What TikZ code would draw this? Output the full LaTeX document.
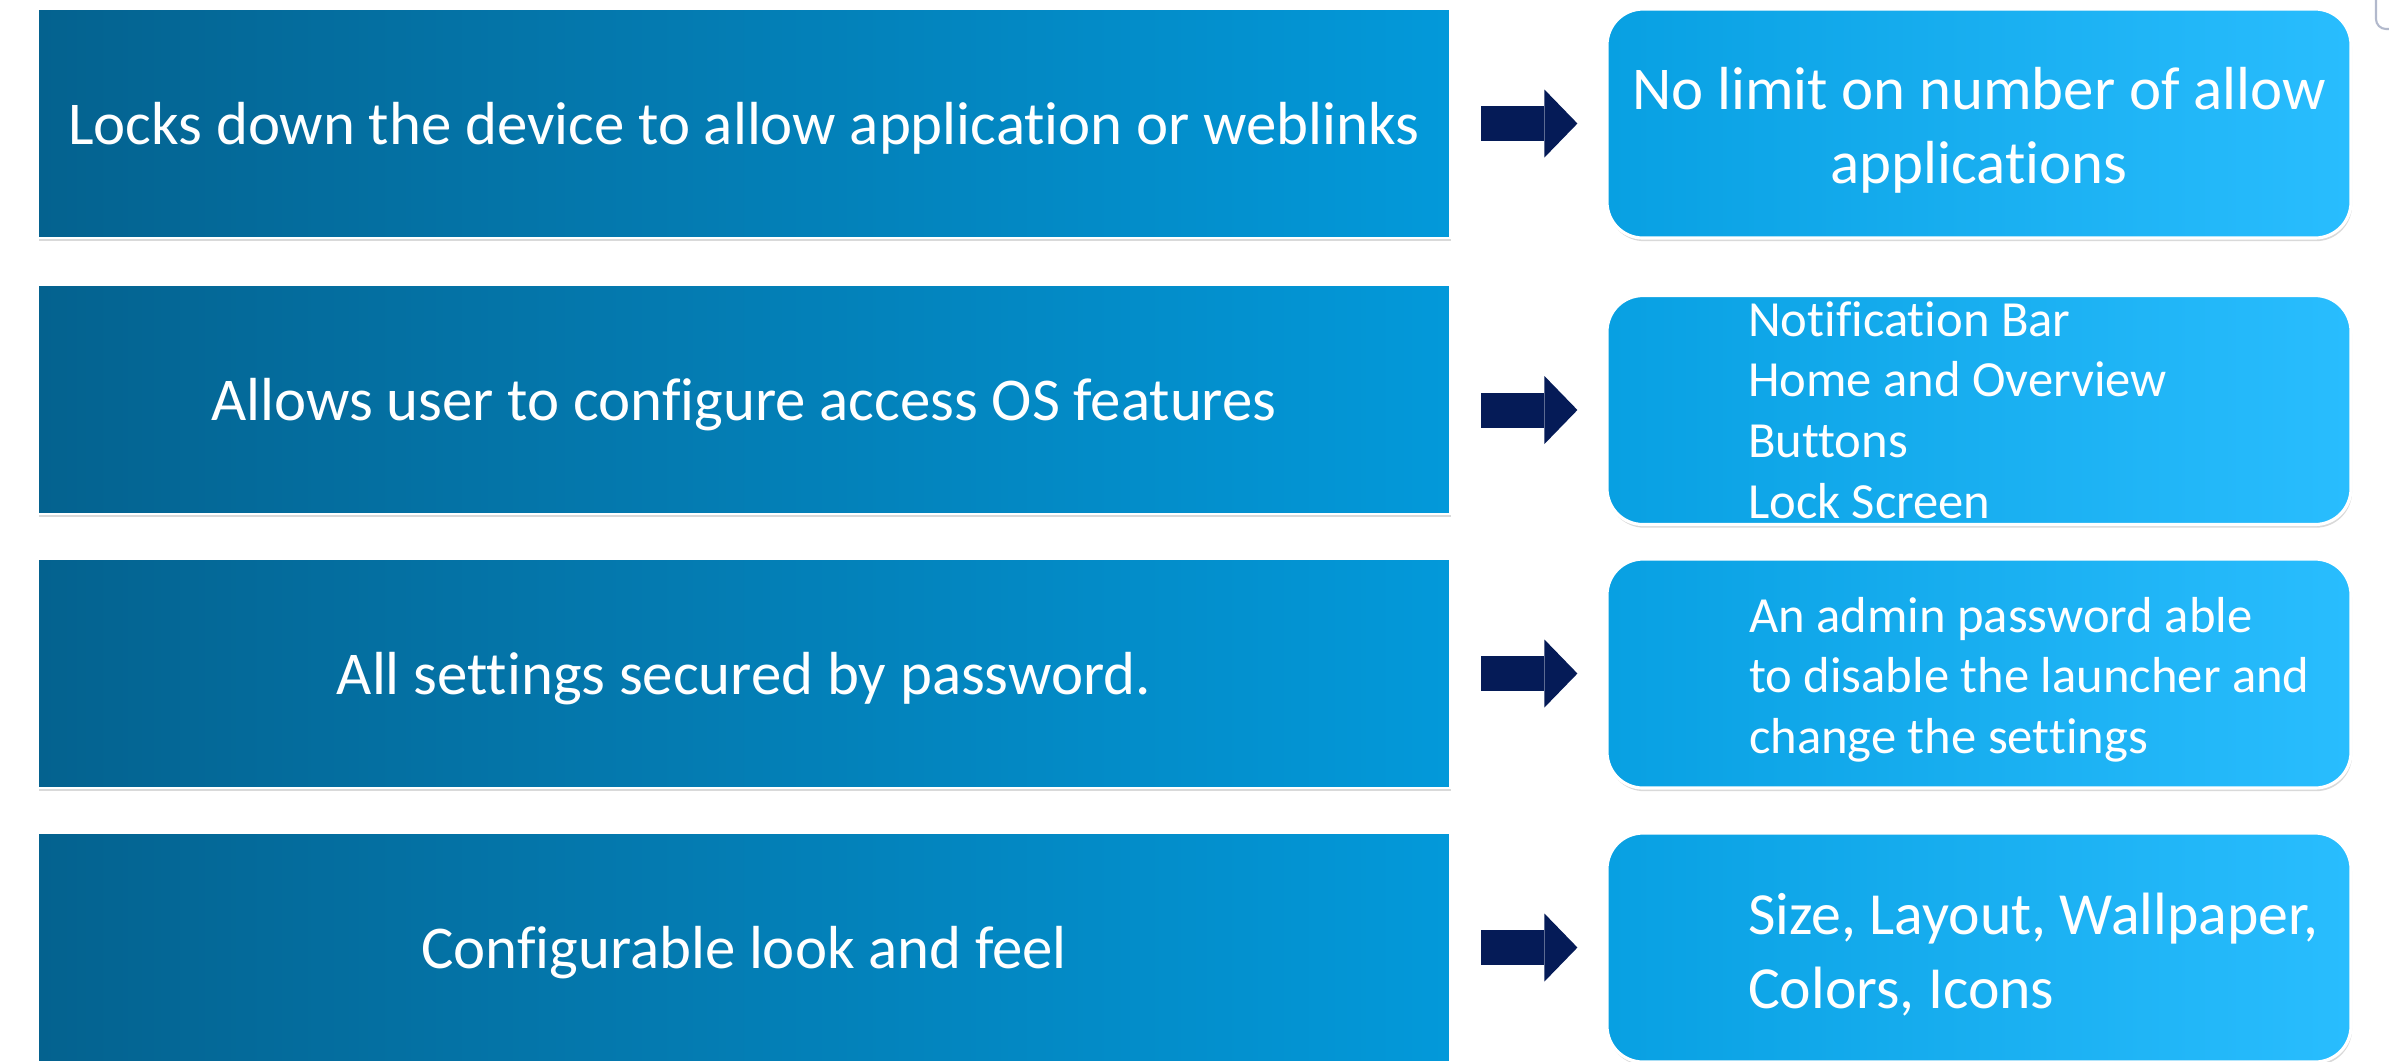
\documentclass[tikz,border=0pt]{standalone}
\usepackage{fontspec}
\setmainfont{Carlito}[Ligatures=NoCommon]
\usetikzlibrary{arrows.meta,shadows}

\definecolor{featdark}{HTML}{04628F}
\definecolor{featlight}{HTML}{0399DA}
\definecolor{infodark}{HTML}{08A0E2}
\definecolor{infolight}{HTML}{29BDFE}
\definecolor{arrownavy}{HTML}{051B57}
\definecolor{edgegray}{HTML}{B2B9CC}

\tikzset{
  featbox/.style={rectangle,minimum width=14.12cm,minimum height=2.29cm,inner sep=0pt,
    left color=featdark,right color=featlight,draw=white,line width=0.7pt,
    drop shadow={shadow xshift=0.3pt,shadow yshift=-0.9pt,opacity=0.3},
    text=white,text depth=0pt,font=\fontsize{17.3}{21.1}\selectfont},
  infobox/.style={rectangle,rounded corners=0.36cm,minimum width=7.44cm,minimum height=2.29cm,
    inner sep=0pt,left color=infodark,right color=infolight,draw=white,line width=0.9pt,
    drop shadow={shadow xshift=0.3pt,shadow yshift=-0.9pt,opacity=0.3}},
  infotext/.style={text=white,align=left,anchor=west,inner sep=0pt},
  bigarrow/.style={arrownavy,line width=0.35cm,
    -{Triangle[length=0.33cm,width=0.68cm,line width=0pt]},
    shorten <=0.30cm,shorten >=0.28cm}
}

\begin{document}
\begin{tikzpicture}
    \useasboundingbox (0,0) rectangle (23.89,-10.61);
    \clip (0,0) rectangle (23.89,-10.61);
    %% feature boxes
    \node[featbox] (f1) at (7.44,-1.235) {Locks down the device to allow application or weblinks};
    \node[featbox] (f2) at (7.44,-3.995) {Allows user to configure access OS features};
    \node[featbox] (f3) at (7.44,-6.735) {All settings secured by password.};
    \node[featbox] (f4) at (7.44,-9.475) {Configurable look and feel};
    %% detail boxes
    \node[infobox] (r1) at (19.79,-1.235) {};
    \node[infobox] (r2) at (19.79,-4.10) {};
    \node[infobox] (r3) at (19.79,-6.735) {};
    \node[infobox] (r4) at (19.79,-9.475) {};
    \node[infotext,anchor=center,align=center,font=\fontsize{17.3}{21}\selectfont] (t1)
        at ([yshift=-0.07cm]r1.center) {No limit on number of allow\\applications};
    \node[infotext,font=\fontsize{14.4}{17.3}\selectfont] (t2) at ([xshift=1.42cm]r2.west)
        {Notification Bar\\Home and Overview\\Buttons\\Lock Screen};
    \node[infotext,font=\fontsize{14.4}{17.2}\selectfont] (t3) at ([xshift=1.43cm,yshift=-0.6mm]r3.west)
        {An admin password able\\to disable the launcher and\\change the settings};
    \node[infotext,font=\fontsize{17}{21}\selectfont] (t4) at ([xshift=1.42cm,yshift=-0.7mm]r4.west)
        {Size, Layout, Wallpaper,\\Colors, Icons};
    %% arrows
    \foreach \i in {1,2,3,4} {
        \draw[bigarrow] (f\i.east |- r\i.west) -- (r\i.west);
    }
    %% corner of the next shape
    \draw[edgegray,line width=0.6pt,rounded corners=0.1cm] (23.76,0.05) -- (23.76,-0.29) -- (23.95,-0.29);
\end{tikzpicture}
\end{document}
